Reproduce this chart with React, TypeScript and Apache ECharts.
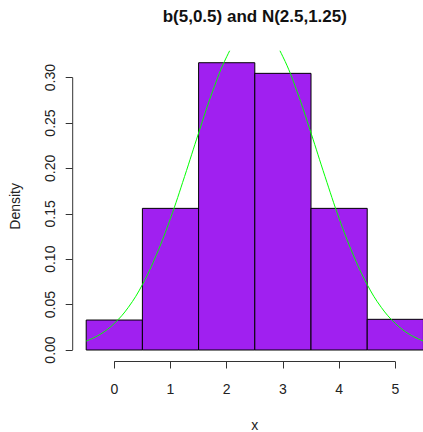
import React, { useEffect, useRef } from "react";
import * as echarts from "echarts";

// Histogram (density) of b(5,0.5) samples
const binLeft = [-0.5, 0.5, 1.5, 2.5, 3.5, 4.5];
const binRight = [0.5, 1.5, 2.5, 3.5, 4.5, 5.5];
const densities = [0.033, 0.156, 0.3164, 0.3047, 0.156, 0.0338];

// Normal curve N(2.5,1.25)
const curveX = [-0.5, -0.25, 0, 0.25, 0.5, 0.75, 1, 1.25, 1.5, 1.75, 2, 2.25, 2.5, 2.75, 3, 3.25, 3.5, 3.75, 4, 4.25, 4.5, 4.75, 5, 5.25, 5.5];
const curveY = [0.0098, 0.0173, 0.0293, 0.047, 0.072, 0.105, 0.145, 0.191, 0.239, 0.285, 0.323, 0.348, 0.357, 0.348, 0.323, 0.285, 0.239, 0.191, 0.145, 0.105, 0.072, 0.047, 0.0293, 0.0173, 0.0098];

const xTicks = [0, 1, 2, 3, 4, 5];
const yTicks = [0, 0.05, 0.1, 0.15, 0.2, 0.25, 0.3];
const xTickLabels = ["0", "1", "2", "3", "4", "5"];
const yTickLabels = ["0.00", "0.05", "0.10", "0.15", "0.20", "0.25", "0.30"];

const X_MIN = -0.74;
const X_MAX = 5.74;
const Y_MIN = -0.01266;
const Y_MAX = 0.3291;

const FONT = "Liberation Sans, Arial, sans-serif";
const AXIS_COLOR = "#333";

export default function App() {
  const ref = useRef<HTMLDivElement>(null);
  useEffect(() => {
    if (!ref.current) return;
    const chart = echarts.init(ref.current, undefined, { renderer: "svg" });
    const barData = binLeft.map((l, i) => [l, binRight[i], densities[i]]);
    const option: any = {
      animation: false,
      backgroundColor: "#ffffff",
      title: {
        text: "b(5,0.5) and N(2.5,1.25)",
        left: 254.8,
        top: 8,
        padding: 0,
        textAlign: "center",
        textStyle: { fontFamily: FONT, fontSize: 17, fontWeight: "bold", color: "#111" },
      },
      grid: { left: 72.7, top: 51.2, width: 364.2, height: 310.3, containLabel: false, outerBoundsMode: "none" },
      xAxis: {
        type: "value",
        min: X_MIN,
        max: X_MAX,
        name: "x",
        nameLocation: "middle",
        nameGap: 56,
        nameTextStyle: { fontFamily: FONT, fontSize: 14, color: "#222" },
        axisLine: { show: false, onZero: false },
        splitLine: { show: false },
        axisTick: { show: true, length: 7, customValues: xTicks, lineStyle: { color: AXIS_COLOR } },
        axisLabel: {
          customValues: xTicks,
          formatter: (v: number) => xTickLabels[xTicks.indexOf(Math.round(v))] ?? "",
          margin: 20,
          fontFamily: FONT,
          fontSize: 14,
          color: "#222",
        },
      },
      yAxis: {
        type: "value",
        min: Y_MIN,
        max: Y_MAX,
        name: "Density",
        nameLocation: "middle",
        nameGap: 51,
        nameTextStyle: { fontFamily: FONT, fontSize: 14, color: "#222" },
        axisLine: { show: false, onZero: false },
        splitLine: { show: false },
        axisTick: { show: true, length: 7, customValues: yTicks, lineStyle: { color: AXIS_COLOR } },
        axisLabel: {
          customValues: yTicks,
          rotate: 90,
          formatter: (v: number) => {
            const i = yTicks.findIndex((t) => Math.abs(t - v) < 1e-6);
            return i >= 0 ? yTickLabels[i] : "";
          },
          margin: 16,
          fontFamily: FONT,
          fontSize: 14,
          color: "#222",
        },
      },
      series: [
        {
          type: "custom",
          data: barData,
          renderItem: (params: any, api: any) => {
            const p1 = api.coord([api.value(0), api.value(2)]);
            const p2 = api.coord([api.value(1), 0]);
            return {
              type: "rect",
              shape: { x: p1[0], y: p1[1], width: p2[0] - p1[0], height: p2[1] - p1[1] },
              style: { fill: "#A020F0", stroke: "#000", lineWidth: 1 },
            };
          },
          encode: { x: [0, 1], y: 2 },
          z: 2,
        },
        {
          type: "line",
          data: curveX.map((x, i) => [x, curveY[i]]),
          smooth: 0.4,
          showSymbol: false,
          clip: true,
          lineStyle: { color: "#00FF00", width: 1 },
          z: 3,
        },
        {
          type: "custom",
          data: [[xTicks[0], xTicks[xTicks.length - 1], yTicks[0], yTicks[yTicks.length - 1]]],
          renderItem: (params: any, api: any) => {
            const a = api.coord([api.value(0), Y_MIN]);
            const b = api.coord([api.value(1), Y_MIN]);
            const c = api.coord([X_MIN, api.value(2)]);
            const d = api.coord([X_MIN, api.value(3)]);
            return {
              type: "group",
              children: [
                { type: "line", shape: { x1: a[0], y1: a[1], x2: b[0], y2: b[1] }, style: { stroke: AXIS_COLOR, lineWidth: 1 } },
                { type: "line", shape: { x1: c[0], y1: c[1], x2: d[0], y2: d[1] }, style: { stroke: AXIS_COLOR, lineWidth: 1 } },
              ],
            };
          },
          clip: false,
          silent: true,
          z: 4,
        },
      ],
    };
    chart.setOption(option);
    return () => chart.dispose();
  }, []);
  return (
    <div style={{ position: "fixed", left: 0, top: 0, width: 423, height: 432, overflow: "hidden", background: "#fff" }}>
      <div ref={ref} style={{ width: 445, height: 432 }} />
    </div>
  );
}
